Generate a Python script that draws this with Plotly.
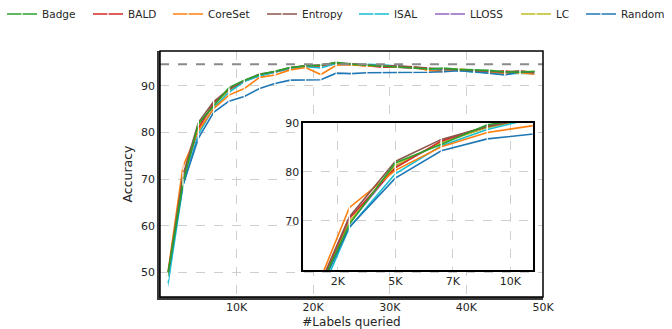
import plotly.graph_objects as go

# ---------------- data ----------------
labels_k = [1, 3, 5, 7, 9, 11, 13, 15, 17, 19, 21, 23, 25, 27, 29, 31, 33, 35, 37, 39, 41, 43, 45, 47, 49]
x_vals = [k * 1000 for k in labels_k]

badge   = [49.2, 69.3, 81.8, 85.6, 89.6, 91.2, 92.4, 93.1, 93.9, 94.3, 94.4, 95.0, 94.6, 94.4, 94.2, 94.1, 93.9, 93.6, 93.8, 93.5, 93.4, 93.3, 93.0, 92.9, 93.1]
bald    = [49.0, 70.5, 80.8, 86.3, 89.3, 91.0, 92.2, 92.9, 93.7, 94.2, 94.3, 94.8, 94.6, 94.3, 94.0, 94.0, 93.8, 93.5, 93.2, 93.4, 93.1, 92.9, 93.2, 92.8, 92.6]
coreset = [49.5, 72.7, 80.3, 85.1, 88.0, 89.4, 91.8, 92.3, 93.4, 93.9, 92.4, 94.4, 94.5, 94.2, 94.3, 94.0, 94.1, 93.3, 93.0, 93.6, 93.3, 93.0, 92.7, 92.8, 92.5]
entropy = [49.3, 70.8, 82.1, 86.6, 89.2, 91.1, 92.5, 93.0, 93.9, 94.3, 94.5, 94.9, 94.7, 94.5, 94.2, 94.3, 94.0, 93.8, 93.6, 93.4, 93.3, 93.0, 92.9, 93.2, 92.8]
isal    = [47.0, 68.6, 79.6, 85.3, 88.6, 90.9, 92.1, 92.9, 93.7, 94.1, 93.8, 94.8, 94.6, 94.6, 94.5, 94.2, 93.9, 93.6, 93.4, 93.3, 92.9, 92.8, 92.5, 92.7, 92.6]
lloss   = [48.9, 69.5, 81.0, 86.0, 89.1, 91.0, 92.3, 93.0, 93.8, 94.2, 94.2, 94.8, 94.6, 94.4, 94.2, 94.0, 93.9, 93.6, 93.4, 93.3, 93.1, 92.9, 92.8, 92.9, 92.7]
lc      = [49.0, 69.8, 81.3, 85.9, 89.0, 91.0, 92.3, 93.0, 93.8, 94.2, 94.3, 94.8, 94.5, 94.4, 94.2, 94.1, 94.0, 93.7, 93.4, 93.5, 93.2, 93.1, 92.9, 93.1, 93.0]
random_ = [49.0, 68.7, 78.7, 84.3, 86.7, 87.7, 89.4, 90.5, 91.2, 91.2, 91.3, 92.7, 92.6, 92.8, 92.8, 92.9, 92.9, 92.9, 93.0, 93.2, 93.0, 92.7, 92.3, 93.0, 92.8]

full_label_accuracy = 94.6

main_x_ticks = [10000, 20000, 30000, 40000, 50000]
main_x_ticktext = ["10K", "20K", "30K", "40K", "50K"]
main_y_ticks = [50, 60, 70, 80, 90]
inset_x_ticks = [2500, 5000, 7500, 10000]
inset_x_ticktext = ["2K", "5K", "7K", "10K"]
inset_y_ticks = [70, 80, 90]

series = [
    ("Badge", badge, "#2ca02c"),
    ("BALD", bald, "#d62728"),
    ("CoreSet", coreset, "#ff7f0e"),
    ("Entropy", entropy, "#8c564b"),
    ("ISAL", isal, "#17becf"),
    ("LLOSS", lloss, "#9467bd"),
    ("LC", lc, "#bcbd22"),
    ("Random", random_, "#1f77b4"),
]
draw_order = ["LLOSS", "LC", "BALD", "ISAL", "CoreSet", "Random", "Entropy", "Badge"]
# legend text start positions (px, container)
legend_text_x = {"Badge": 42, "BALD": 128, "CoreSet": 208, "Entropy": 302,
                 "ISAL": 394, "LLOSS": 470, "LC": 556, "Random": 621}

W, H = 672, 329
FONT = "DejaVu Sans"
TXT = "#262626"

fig = go.Figure()
legend_idx = {name: i + 1 for i, (name, _, _) in enumerate(series)}
lookup = {name: (vals, col) for name, vals, col in series}

for name in draw_order:
    vals, col = lookup[name]
    lg = "legend" if legend_idx[name] == 1 else f"legend{legend_idx[name]}"
    fig.add_trace(go.Scatter(
        x=x_vals, y=vals, name=name, mode="lines+markers",
        line=dict(color=col, width=1.6),
        marker=dict(symbol="line-ns", size=5, color="white", line=dict(color="white", width=1.2)),
        xaxis="x", yaxis="y", legend=lg, showlegend=True,
    ))
for name in draw_order:
    vals, col = lookup[name]
    fig.add_trace(go.Scatter(
        x=x_vals, y=vals, name=name, mode="lines+markers",
        line=dict(color=col, width=1.6),
        marker=dict(symbol="line-ns", size=5, color="white", line=dict(color="white", width=1.2)),
        xaxis="x2", yaxis="y2", showlegend=False,
    ))

# margins -> plot area
L, R, T, B = 160, W - 543, 51, H - 297
pw, ph = W - L - R, H - T - B

def dom_x(px):
    return (px - L) / pw

def dom_y(py):
    return (H - B - py) / ph

grid = dict(showgrid=True, gridcolor="#cfcfcf", griddash="dash", gridwidth=1, zeroline=False, ticks="")

layout = dict(
    width=W, height=H,
    margin=dict(l=L, r=R, t=T, b=B, autoexpand=False),
    paper_bgcolor="white", plot_bgcolor="white",
    font=dict(family=FONT, size=11, color=TXT),
    xaxis=dict(domain=[0, 1], range=[0, 50000], tickvals=main_x_ticks, ticktext=main_x_ticktext,
               showline=True, linecolor="#3a3a3a", linewidth=2.5, anchor="y",
               tickfont=dict(size=11, color=TXT), ticklabelstandoff=-2,
               title=dict(text="#Labels queried", font=dict(size=12, color=TXT), standoff=6), **grid),
    yaxis=dict(domain=[0, 1], range=[44.7, 97.45], tickvals=main_y_ticks,
               showline=True, linecolor="#3a3a3a", linewidth=2.5, anchor="x",
               tickfont=dict(size=11, color=TXT),
               title=dict(text="Accuracy", font=dict(size=12.5, color=TXT), standoff=6), **grid),
    xaxis2=dict(domain=[dom_x(303.3), dom_x(533.3)], range=[1000, 11000], anchor="y2",
                tickvals=inset_x_ticks, ticktext=inset_x_ticktext,
                showline=True, mirror=True, linecolor="black", linewidth=1.8,
                tickfont=dict(size=11, color=TXT), **grid),
    yaxis2=dict(domain=[dom_y(270), dom_y(122.7)], range=[60, 90], anchor="x2",
                tickvals=inset_y_ticks,
                showline=True, mirror=True, linecolor="black", linewidth=1.8,
                tickfont=dict(size=11, color=TXT), **grid),
    shapes=[
        dict(type="line", xref="x domain", yref="y", x0=0, x1=1,
             y0=full_label_accuracy, y1=full_label_accuracy,
             line=dict(color="#8a8a8a", width=2, dash="dash")),
        dict(type="rect", xref="paper", yref="paper", x0=0, x1=1, y0=0, y1=1,
             line=dict(color="black", width=1.5)),
    ],
    showlegend=True,
)

for name, _, _ in series:
    i = legend_idx[name]
    key = "legend" if i == 1 else f"legend{i}"
    layout[key] = dict(
        xref="container", yref="container",
        x=(legend_text_x[name] - 40) / W, xanchor="left",
        y=1 - 14 / H, yanchor="middle",
        orientation="h", bgcolor="rgba(0,0,0,0)", borderwidth=0,
        font=dict(family=FONT, size=10.5, color=TXT),
    )

fig.update_layout(**layout)
fig.write_html("out.html", config={"displayModeBar": False},
               post_script="document.body.style.margin='0';")
